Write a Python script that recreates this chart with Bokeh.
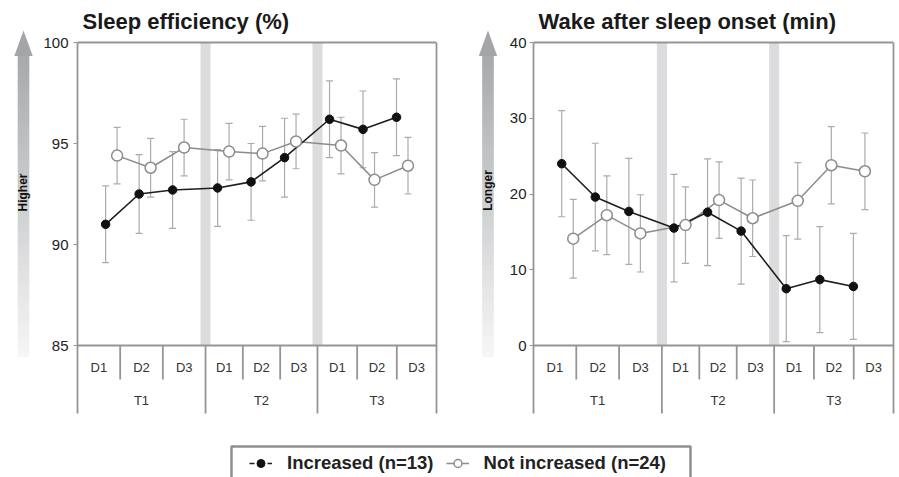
import numpy as np
from bokeh.plotting import figure
from bokeh.layouts import row, column
from bokeh.models import (Range1d, FixedTicker, ColumnDataSource, Span, Legend, LegendItem,
                          Whisker, TeeHead, LinearAxis)
from bokeh.core.properties import value
from bokeh.embed import file_html
from bokeh.resources import INLINE

# ---------------- data ----------------
sessions = ["T1", "T2", "T3"]
days = ["D1", "D2", "D3"]

se_increased = [91.0, 92.5, 92.7, 92.8, 93.1, 94.3, 96.2, 95.7, 96.3]
se_increased_err = [1.9, 1.95, 1.9, 1.9, 1.9, 1.95, 1.9, 1.9, 1.9]
se_not_increased = [94.4, 93.8, 94.8, 94.6, 94.5, 95.1, 94.9, 93.2, 93.9]
se_not_increased_err = [1.4, 1.45, 1.4, 1.4, 1.35, 1.35, 1.4, 1.35, 1.4]

waso_increased = [24.0, 19.6, 17.7, 15.5, 17.6, 15.1, 7.5, 8.7, 7.8]
waso_increased_err = [7.0, 7.1, 7.0, 7.1, 7.05, 7.0, 7.0, 7.0, 7.0]
waso_not_increased = [14.1, 17.2, 14.8, 15.9, 19.2, 16.8, 19.1, 23.8, 23.0]
waso_not_increased_err = [5.2, 5.2, 5.1, 5.05, 5.05, 5.05, 5.05, 5.1, 5.05]

se_ticks = [85, 90, 95, 100]
waso_ticks = [0, 10, 20, 30, 40]

titles = ["Sleep efficiency (%)", "Wake after sleep onset (min)"]
direction_labels = ["Higher", "Longer"]
legend_labels = ["Increased (n=13)", "Not increased (n=24)"]

# ---------------- layout / style ----------------
FONT = "Liberation Sans"
AX = "#959595"
ERR = "#ababab"
BAR = "#dcdcde"
INC_C = "#1e1e1e"
NOT_C = "#8c8c8c"
GAP = 0.343          # extra spacing between sessions (in day slots)
OFFSET = 0.343       # horizontal dodge of second series
X_MIN, X_MAX = -0.84, 9.88
TOP_PX, PLOT_PX, TABLE_PX = 42, 303, 68
TOTAL_H = 443
W = 899
LEG_H = 477 - TOTAL_H

n_s, n_d = len(sessions), len(days)
x_inc = [g * (n_d + GAP) + d for g in range(n_s) for d in range(n_d)]
x_not = [x + OFFSET for x in x_inc]
group_start = [g * (n_d + GAP) for g in range(n_s)]
group_edges = [X_MIN] + [s - 0.36 for s in group_start[1:]] + [X_MAX]
cell_edges, cell_centers, group_centers = [], [], []
for g in range(n_s):
    a, b = group_edges[g], group_edges[g + 1]
    w = (b - a) / n_d
    group_centers.append((a + b) / 2)
    for d in range(n_d):
        cell_centers.append(a + (d + 0.5) * w)
        if d > 0:
            cell_edges.append(a + d * w)


def make_panel(title, ticks, inc, inc_err, nin, nin_err, frame_w, b_left, b_right, standoff):
    y0, y1 = ticks[0], ticks[-1]
    u = (y1 - y0) / PLOT_PX
    ybot = y0 - TABLE_PX * u
    p = figure(x_range=Range1d(X_MIN, X_MAX),
               y_range=Range1d(y1 - (TOTAL_H - TOP_PX) * u, y1 + TOP_PX * u),
               frame_width=frame_w, frame_height=TOTAL_H,
               min_border_top=0, min_border_bottom=0,
               min_border_left=b_left, min_border_right=b_right,
               x_axis_location=None, toolbar_location=None, output_backend="svg")
    p.grid.visible = False
    p.outline_line_color = None

    ya = p.yaxis[0]
    ya.ticker = FixedTicker(ticks=ticks)
    ya.bounds = (ybot, y1)
    ya.axis_line_color = AX
    ya.axis_line_width = 1.8
    ya.major_tick_line_color = AX
    ya.major_tick_line_width = 1.2
    ya.major_tick_out = 4
    ya.major_tick_in = 0
    ya.minor_tick_line_color = None
    ya.major_label_standoff = standoff
    ya.major_label_text_font = FONT
    ya.major_label_text_font_size = "15px"
    ya.major_label_text_color = "#222222"

    ra = LinearAxis(ticker=FixedTicker(ticks=[]), bounds=(ybot, y1), axis_line_color=AX,
                    axis_line_width=1.8, major_tick_out=0, major_tick_in=0,
                    minor_tick_out=0, minor_tick_in=0, major_label_standoff=0)
    p.add_layout(ra, "right")

    p.add_layout(Span(location=y1, dimension="width", line_color=AX, line_width=1.8))
    p.add_layout(Span(location=y0, dimension="width", line_color=AX, line_width=1.8))

    # title
    p.text(x=[X_MIN], y=[y1 + (TOP_PX - 21) * u], text=[title], x_offset=5,
           text_font=value(FONT), text_font_size=value("22px"), text_font_style="bold",
           text_color="#1a1a1a", text_align="left", text_baseline="alphabetic")

    # separators between sessions (grey bands)
    inner = group_edges[1:-1]
    p.quad(left=[e - 0.15 for e in inner], right=[e + 0.15 for e in inner],
           bottom=y0, top=y1, fill_color=BAR, line_color=None)

    # category table
    p.segment(x0=cell_edges, y0=y0, x1=cell_edges, y1=y0 - 34 * u, line_color=AX, line_width=1.8)
    p.segment(x0=inner, y0=y0, x1=inner, y1=ybot, line_color=AX, line_width=1.8)
    p.text(x=cell_centers, y=[y0 - 22 * u] * len(cell_centers), text=days * n_s,
           text_font=value(FONT), text_font_size=value("13px"), text_color="#333333",
           text_align="center", text_baseline="middle")
    p.text(x=group_centers, y=[y0 - 55 * u] * n_s, text=sessions,
           text_font=value(FONT), text_font_size=value("13px"), text_color="#333333",
           text_align="center", text_baseline="middle")

    # error bars
    for xs, m, e in ((x_inc, inc, inc_err), (x_not, nin, nin_err)):
        src = ColumnDataSource(dict(x=xs, upper=[a + b for a, b in zip(m, e)],
                                    lower=[a - b for a, b in zip(m, e)]))
        wk = Whisker(source=src, base="x", upper="upper", lower="lower", dimension="height",
                     line_color=ERR, line_width=1.2,
                     upper_head=TeeHead(size=7, line_color=ERR, line_width=1.2),
                     lower_head=TeeHead(size=7, line_color=ERR, line_width=1.2))
        wk.level = "underlay"
        p.add_layout(wk)

    p.line(x_not, nin, line_color=NOT_C, line_width=1.5)
    p.line(x_inc, inc, line_color=INC_C, line_width=1.6)
    p.scatter(x_inc, inc, size=8.5, fill_color="#111111", line_color="#111111")
    p.scatter(x_not, nin, size=11, fill_color="white", line_color=NOT_C, line_width=1.5)
    return p


def make_arrow(width, cx, label, ty):
    f = figure(frame_width=width, frame_height=TOTAL_H, x_range=Range1d(0, width),
               y_range=Range1d(TOTAL_H, 0), min_border=0,
               x_axis_location=None, y_axis_location=None,
               toolbar_location=None, output_backend="svg")
    f.grid.visible = False
    f.outline_line_color = None
    top, bot, n = 55, 356, 60
    c0 = np.array([168, 170, 173])
    c1 = np.array([246, 246, 246])
    edges = np.linspace(top, bot, n + 1)
    cols = []
    for i in range(n):
        t = i / (n - 1)
        c = (c0 + (c1 - c0) * t).astype(int)
        cols.append("#%02x%02x%02x" % tuple(c))
    f.quad(left=cx - 5.8, right=cx + 5.8, top=edges[:-1], bottom=edges[1:] + 0.5,
           fill_color=cols, line_color=None)
    f.patch([cx - 9.2, cx, cx + 9.2], [55.5, 30, 55.5], fill_color="#a3a5a8", line_color=None)
    f.text(x=[cx - 0.5], y=[ty], text=[label], angle=np.pi / 2, text_font=value(FONT),
           text_font_size=value("12px"), text_font_style="bold", text_color="#111111",
           text_align="center", text_baseline="middle")
    return f


arrow_l = make_arrow(40, 23.0, direction_labels[0], 192)
panel_l = make_panel(titles[0], se_ticks, se_increased, se_increased_err,
                     se_not_increased, se_not_increased_err, 359, 37, 20, 5)
arrow_r = make_arrow(44, 31.5, direction_labels[1], 190)
panel_r = make_panel(titles[1], waso_ticks, waso_increased, waso_increased_err,
                     waso_not_increased, waso_not_increased_err, 360, 33, 6, 3)

# legend strip: frame in pixel-like coordinates (y downwards); box is cut by the page bottom
lf = figure(frame_width=W, frame_height=LEG_H, x_range=Range1d(0, W), y_range=Range1d(LEG_H, 0),
            min_border=0, x_axis_location=None, y_axis_location=None,
            toolbar_location=None, output_backend="svg")
lf.grid.visible = False
lf.outline_line_color = None
lf.quad(left=[231], right=[690], top=[3], bottom=[LEG_H + 10], fill_color="white",
        line_color="#8f8f8f", line_width=2.5)
hidden = dict(x=[-50], y=[-50])   # helper renderers outside the view; only their legend glyphs show
r1l = lf.line("x", "y", source=ColumnDataSource(hidden), line_color=INC_C, line_width=1.6,
              line_dash="5 4")
r1s = lf.scatter("x", "y", source=ColumnDataSource(hidden), size=7, fill_color="#111111",
                 line_color="#111111")
r2l = lf.line("x", "y", source=ColumnDataSource(hidden), line_color=NOT_C, line_width=1.5)
r2s = lf.scatter("x", "y", source=ColumnDataSource(hidden), size=10, fill_color="white",
                 line_color=NOT_C, line_width=1.5)
legend = Legend(items=[LegendItem(label=legend_labels[0], renderers=[r1l, r1s]),
                       LegendItem(label=legend_labels[1], renderers=[r2l, r2s])],
                orientation="horizontal", location=(249, 3), margin=0, padding=6,
                spacing=12, label_standoff=15, glyph_width=23, glyph_height=20,
                border_line_color=None, background_fill_alpha=0,
                label_text_font=FONT, label_text_font_style="bold",
                label_text_font_size="18.5px", label_text_color="#222222")
lf.add_layout(legend, "center")

layout = column(row(arrow_l, panel_l, arrow_r, panel_r), lf)
open("out.html", "w").write(file_html(layout, INLINE))
